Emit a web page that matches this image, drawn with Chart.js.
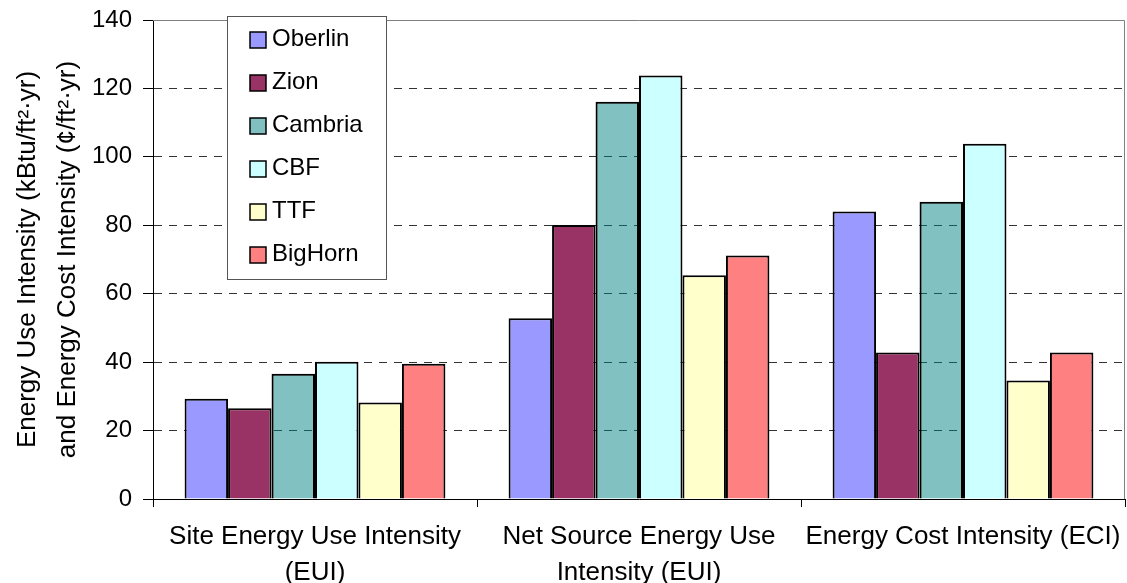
<!DOCTYPE html>
<html>
<head>
<meta charset="utf-8">
<script src="https://cdn.jsdelivr.net/npm/chart.js@4.4.1/dist/chart.umd.min.js"></script>
<style>
  html, body { margin: 0; padding: 0; background: #fff; }
  #wrap { width: 1127px; height: 583px; }
</style>
</head>
<body>
<div id="wrap"><canvas id="chart"></canvas></div>
<script>
// categories (x axis), one line per array item
const categories = [
  ['Site Energy Use Intensity', '(EUI)'],
  ['Net Source Energy Use', 'Intensity (EUI)'],
  ['Energy Cost Intensity (ECI)']
];

// series values
const oberlin = [29.3, 52.8, 84.0];
const zion = [26.5, 80.1, 42.8];
const cambria = [36.6, 116.1, 86.9];
const cbf = [40.1, 123.8, 103.8];
const ttf = [28.2, 65.4, 34.6];
const bighorn = [39.5, 71.2, 42.8];

const yTicks = [0, 20, 40, 60, 80, 100, 120, 140];

const seriesNames = ['Oberlin', 'Zion', 'Cambria', 'CBF', 'TTF', 'BigHorn'];
const seriesValues = [oberlin, zion, cambria, cbf, ttf, bighorn];
const seriesColors = ['#9999ff', '#993366', 'rgba(0,128,128,0.49)', '#ccffff', '#ffffcc', '#ff8080'];

const FONT = "'Liberation Sans', Arial, sans-serif";

// legend box drawn inside the plot, like the original
const boxLegend = {
  id: 'boxLegend',
  afterDraw(chart) {
    const ctx = chart.ctx;
    const x0 = 227, y0 = 16, w = 159, h = 263;
    ctx.save();
    ctx.fillStyle = '#fff';
    ctx.fillRect(x0, y0, w, h);
    ctx.strokeStyle = '#555';
    ctx.lineWidth = 1;
    ctx.strokeRect(x0 + 0.5, y0 + 0.5, w, h);
    ctx.font = '24px ' + FONT;
    ctx.textBaseline = 'middle';
    chart.data.datasets.forEach((ds, i) => {
      const cy = 39 + i * 43;
      ctx.fillStyle = i === 2 ? '#80c0c0' : ds.backgroundColor;
      ctx.fillRect(250, cy - 7, 16, 16);
      ctx.strokeStyle = '#000';
      ctx.lineWidth = 1.5;
      ctx.strokeRect(250, cy - 7, 16, 16);
      ctx.fillStyle = '#000';
      ctx.fillText(ds.label, 272, cy);
    });
    ctx.restore();
  }
};

// gray frame on top and right side of plot area
const plotFrame = {
  id: 'plotFrame',
  beforeDatasetsDraw(chart) {
    const a = chart.chartArea, ctx = chart.ctx;
    ctx.save();
    ctx.strokeStyle = '#808080';
    ctx.lineWidth = 1;
    ctx.beginPath();
    ctx.moveTo(a.left, a.top + 0.5);
    ctx.lineTo(a.right - 0.5, a.top + 0.5);
    ctx.lineTo(a.right - 0.5, a.bottom);
    ctx.stroke();
    ctx.restore();
  }
};

new Chart(document.getElementById('chart'), {
  type: 'bar',
  data: {
    labels: categories,
    datasets: seriesNames.map((name, i) => ({
      label: name,
      data: seriesValues[i],
      backgroundColor: seriesColors[i],
      borderColor: '#000',
      borderWidth: 2,
      barPercentage: 1,
      categoryPercentage: 0.805
    }))
  },
  options: {
    responsive: true,
    maintainAspectRatio: false,
    animation: false,
    layout: { padding: { top: 20, right: 2, left: 0, bottom: 0 } },
    plugins: {
      legend: { display: false },
      tooltip: { enabled: false }
    },
    scales: {
      x: {
        afterFit(scale) {
          scale.height = 84;
          scale.paddingLeft = 0;
          scale.paddingRight = 0;
        },
        grid: {
          offset: true,
          drawOnChartArea: false,
          color: '#000',
          tickLength: 8
        },
        border: { color: '#000', width: 1 },
        ticks: {
          color: '#000',
          padding: 12,
          maxRotation: 0,
          autoSkip: false,
          font: { family: FONT, size: 26, lineHeight: 1.37 }
        }
      },
      y: {
        min: 0,
        max: 140,
        afterFit(scale) {
          scale.width = 153;
          scale.paddingTop = 0;
          scale.paddingBottom = 0;
        },
        afterBuildTicks(scale) { scale.ticks = yTicks.map(v => ({ value: v })); },
        grid: {
          color: ctx => (ctx.tick && (ctx.tick.value === 0 || ctx.tick.value === 140)) ? 'rgba(0,0,0,0)' : '#333',
          tickColor: '#000',
          tickLength: 10
        },
        border: { color: '#000', width: 1, dash: [8, 7] },
        ticks: {
          color: '#000',
          padding: 11,
          font: { family: FONT, size: 24, lineHeight: 1 }
        },
        title: {
          display: true,
          text: ['Energy Use Intensity (kBtu/ft\u00b2\u00b7yr)', 'and Energy Cost Intensity (\u00a2/ft\u00b2\u00b7yr)'],
          color: '#000',
          padding: { top: 8, bottom: 0 },
          font: { family: FONT, size: 26, lineHeight: 1.54 }
        }
      }
    }
  },
  plugins: [plotFrame, boxLegend]
});
</script>
</body>
</html>
